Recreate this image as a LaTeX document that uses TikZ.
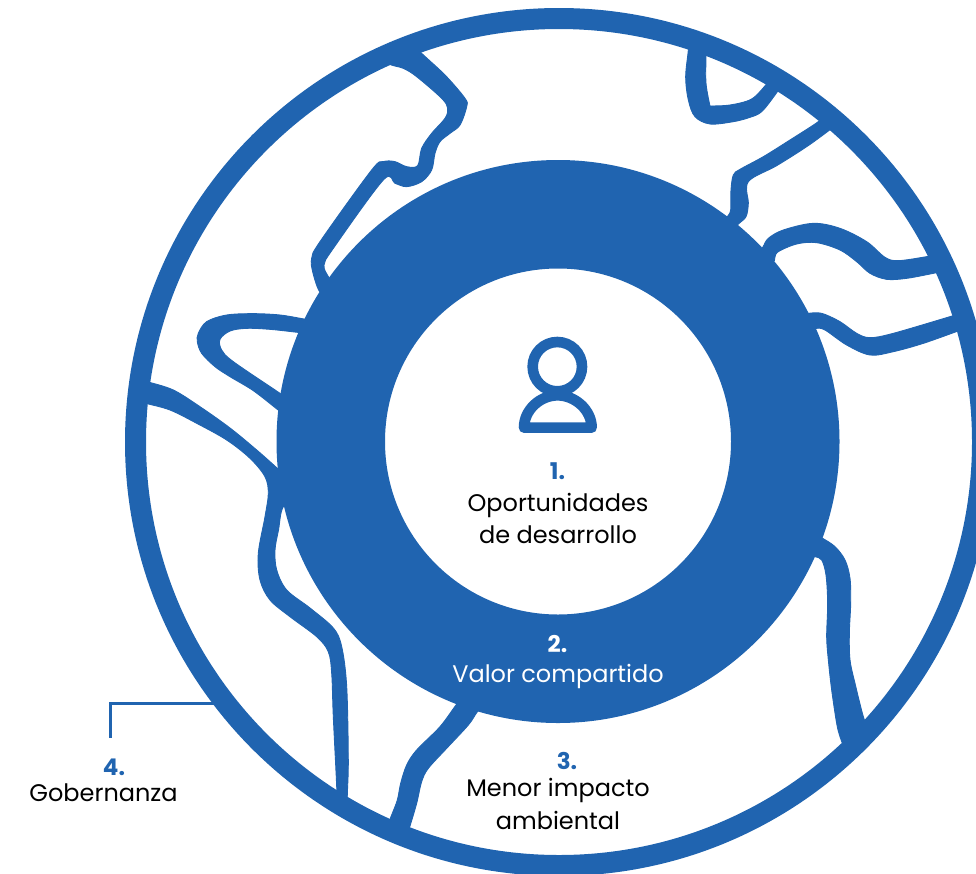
\documentclass[tikz,border=0pt]{standalone}
\usepackage{fontspec}
\setmainfont{Poppins}
\definecolor{brand}{HTML}{2064B0}
\tikzset{
  land/.style={fill=brand,draw=brand,line width=0.9pt,line join=round},
  sm/.style={smooth,tension=0.55},
  num/.style={anchor=base,font=\fontsize{23}{23}\selectfont\bfseries,text=brand,inner sep=0pt},
  lab/.style={anchor=base,font=\fontsize{24}{24}\selectfont,text=black,inner sep=0pt},
  leader/.style={draw=brand,line width=3pt,line join=miter}
}
\begin{document}
\begin{tikzpicture}[x=1pt,y=-1pt]
\useasboundingbox (0,0) rectangle (976,873);
\clip (0,0) rectangle (976,873);

% outer ring
\fill[brand,even odd rule] (559,442) circle[radius=434] (559,442) circle[radius=413];

% upper left lines
\begin{scope}[shift={(120,0)},scale=0.33333]
\path[land] plot[sm] coordinates {(880,120) (895,150) (975,225) (1035,295) (1040,320) (1020,375) (990,400) (960,425) (945,460) (935,510) (905,545) (860,560) (825,550) (790,540) (640,745) (612,795) (625,830) (645,860)}
 -- plot[sm] coordinates {(625,900) (597,872) (578,815) (575,775) (600,725) (755,510) (790,485) (825,485) (860,500) (893,497) (905,445) (935,400) (975,355) (983,325) (965,295) (890,230) (850,205) (805,190) (790,150)} -- cycle;
\path[land] plot[sm] coordinates {(600,965) (552,957) (480,945) (400,941) (320,945) (260,965) (235,1000) (232,1025) (245,1060) (285,1100) (330,1130) (400,1172) (472,1228) (520,1265)}
 -- plot[sm] coordinates {(530,1215) (480,1180) (340,1085) (305,1050) (300,1018) (330,993) (380,985) (450,988) (533,997) (585,1003)} -- cycle;
\end{scope}

% long left line
\path[land] plot[sm] coordinates {(135,378) (147.3,381.7) (173.3,390) (200,406.7) (230,428) (256.7,450) (277.3,468.3) (295,485)}
 -- plot[sm] coordinates {(300,495) (283.3,506.7) (278.5,530) (275,550) (276.7,570) (286.7,590) (310,608) (333.3,628) (341.7,646.7) (346.7,686.7) (348.3,760) (347.3,795) (347,815)}
 -- plot[sm] coordinates {(337,810) (336.7,786.7) (333.3,716.7) (331.7,673.3) (328.3,651.7) (316.7,636.7) (290,616.7) (270,600) (260,580) (258.3,553.3) (265,516.7) (268.3,493.3) (265,476.7) (250,458.3) (226.7,440) (196.7,423.3) (170,410) (145.7,403.3) (130,399)} -- cycle;

% bottom line
\begin{scope}[shift={(380,690)},scale=0.33333]
\path[land] plot[sm] coordinates {(245,25) (228,45) (180,110) (110,180) (80,225) (62,280) (52,330) (33,380) (20,415)}
 -- plot[sm] coordinates {(80,440) (90,408) (110,340) (125,275) (145,235) (200,175) (265,105) (290,68) (310,45)} -- cycle;
\end{scope}

% lower right line
\begin{scope}[shift={(780,520)},scale=0.33333]
\path[land] plot[sm] coordinates {(100,40) (128,55) (165,80) (195,120) (210,175) (212,250) (208,340) (210,420) (225,490) (250,590) (270,640)}
 -- plot[sm] coordinates {(195,690) (180,650) (170,610) (155,510) (145,420) (140,350) (143,250) (138,165) (125,120) (105,110) (80,105)} -- cycle;
\end{scope}

% upper right lines
\begin{scope}[shift={(640,0)},scale=0.33333]
\path[land] plot[sm] coordinates {(145,120) (145,150) (137,230) (145,300) (165,350) (210,372) (280,365) (330,352) (365,335) (405,285) (425,255)}
 -- plot[sm] coordinates {(395,235) (380,252) (335,297) (270,315) (210,318)}
 -- plot[sm] coordinates {(210,318) (198,250) (198,165) (198,130)} -- cycle;
\path[land] plot[sm] coordinates {(545,355) (528,370) (450,420) (370,470) (300,508) (280,525) (273,570) (272,630) (262,650) (250,670)}
 -- plot[sm] coordinates {(270,700) (295,672) (318,650) (325,610) (325,545) (410,497) (500,440) (566,392) (585,375)} -- cycle;
\path[land] plot[sm] coordinates {(350,760) (368,742) (385,715) (430,690) (520,670) (600,685) (680,725) (735,772) (775,782) (860,770) (885,765)}
 -- plot[sm] coordinates {(900,815) (880,820) (800,835) (740,838) (690,820) (650,785) (600,750) (530,728) (470,732) (412,757) (403,782) (385,800)} -- cycle;
\path[land] plot[sm] coordinates {(480,945) (505,940) (545,940) (600,965) (650,1000) (690,1013) (760,1000) (940,947) (975,937)}
 -- plot[sm] coordinates {(985,982) (957,992) (850,1030) (760,1055) (690,1065) (620,1035) (555,990) (528,985) (505,990)} -- cycle;
\end{scope}

% central ring
\fill[brand,even odd rule] (558,441.5) circle[radius=281.5] (558,441.5) circle[radius=173];

% person icon
\begin{scope}[shift={(440,320)},scale=0.33333]
\draw[brand,line width=10.6pt] (352,140) circle[radius=74];
\draw[brand,line width=10.6pt,line join=round] (252,323) .. controls (252,270) and (300,226) .. (353,226) .. controls (405,226) and (455,270) .. (455,323) -- cycle;
\end{scope}

% labels
\node[num] (n1) at (557.5,479.3) {1.};
\node[lab] (t1a) at (558,511.7) {Oportunidades};
\node[lab] (t1b) at (558,543.3) {de desarrollo};
\node[num,text=white] (n2) at (557.5,652.7) {2.};
\node[lab,text=white] (t2) at (558,682.3) {Valor compartido};
\node[num] (n3) at (567,769.3) {3.};
\node[lab] (t3a) at (558,796.7) {Menor impacto};
\node[lab] (t3b) at (558,829) {ambiental};
\node[num] (n4) at (114,775) {4.};
\node[lab] (t4) at (103.5,801.7) {Gobernanza};

% leader
\coordinate (ringpt) at (213.5,703.7);
\coordinate (leadend) at (110.3,737.7);
\draw[leader] (ringpt) -| (leadend);
\end{tikzpicture}
\end{document}
